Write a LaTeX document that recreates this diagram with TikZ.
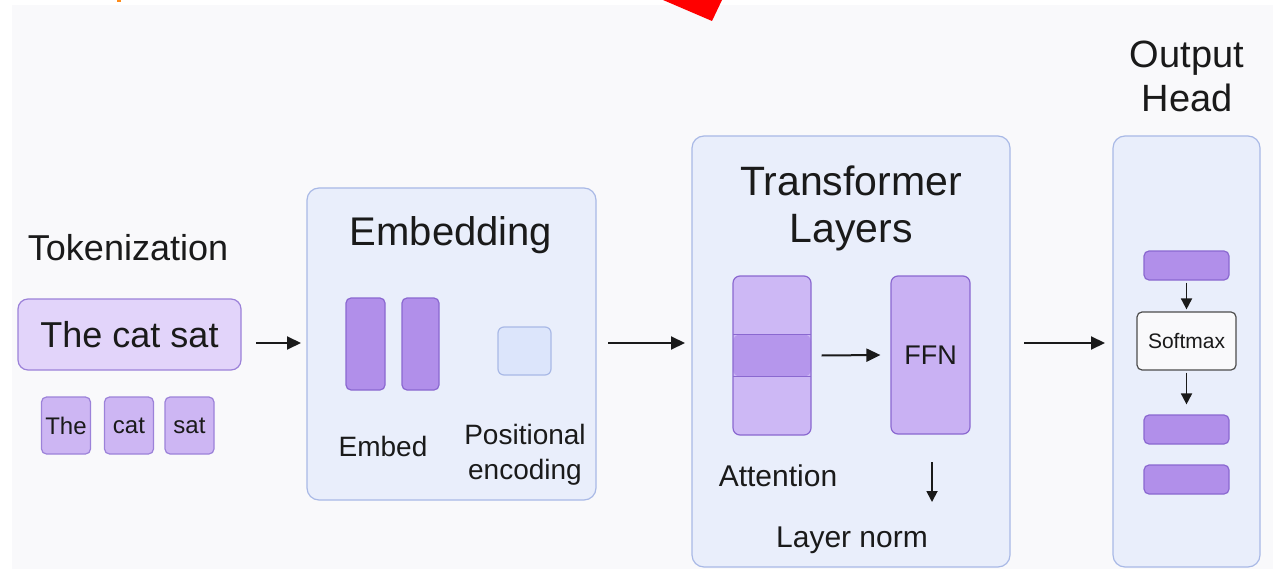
\documentclass[tikz,border=0pt]{standalone}
\usepackage{fontspec}
\setmainfont{Liberation Sans}
\usetikzlibrary{arrows.meta}
\definecolor{bgc}{HTML}{F9F9FB}
\definecolor{panelfill}{HTML}{E9EEFB}
\definecolor{panelline}{HTML}{A9B9E6}
\definecolor{tokfill}{HTML}{E2D4FA}
\definecolor{tokline}{HTML}{9C82D9}
\definecolor{smallfill}{HTML}{CDB6F3}
\definecolor{barfill}{HTML}{B18FEA}
\definecolor{barline}{HTML}{8A68D0}
\definecolor{attlight}{HTML}{CDB8F5}
\definecolor{attmid}{HTML}{B596EC}
\definecolor{ffnfill}{HTML}{C9B1F3}
\definecolor{posfill}{HTML}{DCE5FB}
\definecolor{txt}{HTML}{1A1A1A}
\definecolor{redmark}{HTML}{FF0000}
\definecolor{orangemark}{HTML}{FF8C1A}
\tikzset{
  panel/.style={draw=panelline, fill=panelfill, line width=1.2pt, rounded corners=12pt, inner sep=0pt},
  tokbox/.style={draw=tokline, fill=tokfill, line width=1.2pt, rounded corners=10pt, inner sep=0pt},
  smalltok/.style={draw=tokline, fill=smallfill, line width=1.2pt, rounded corners=5pt, inner sep=0pt, minimum width=49pt, minimum height=57pt, font=\fontsize{24}{26}\selectfont, text=txt},
  bar/.style={draw=barline, fill=barfill, line width=1.2pt, rounded corners=5pt, inner sep=0pt},
  title/.style={font=\fontsize{38}{44}\selectfont, text=txt, align=center, inner sep=0pt},
  label/.style={font=\fontsize{30}{35}\selectfont, text=txt, align=center, inner sep=0pt},
  flow/.style={-{Triangle[length=14pt,width=13pt]}, line width=2pt, draw=txt},
  smallflow/.style={-{Triangle[length=11pt,width=11pt]}, line width=1.8pt, draw=txt},
}
\begin{document}
\begin{tikzpicture}[x=1pt,y=-1pt]
\useasboundingbox (0,0) rectangle (1273,569);
\fill[white] (0,0) rectangle (1273,569);
\fill[bgc] (12,5) rectangle (1273,569);
% top marks
\fill[redmark] (663,0) -- (722,0) -- (712,21) -- cycle;
\fill[orangemark] (117,0) rectangle (121,2);

% Tokenization
\node[title, font=\fontsize{36}{40}\selectfont] (toktitle) at (128,248) {Tokenization};
\node[tokbox, minimum width=223pt, minimum height=71pt, font=\fontsize{36}{40}\selectfont, text=txt] (sent) at (129.5,334.5) {The cat sat};
\node[smalltok] (tthe) at (66,425.5) {The};
\node[smalltok] (tcat) at (129,425.5) {cat};
\node[smalltok] (tsat) at (189.5,425.5) {sat};

% Embedding panel
\node[panel, minimum width=289pt, minimum height=312pt] (emb) at (451.5,344) {};
\node[title, font=\fontsize{40}{44}\selectfont] (embtitle) at (451,235) {Embedding};
\node[bar, minimum width=39pt, minimum height=92pt] (e1) at (365.5,344) {};
\node[bar, minimum width=37pt, minimum height=92pt] (e2) at (420.5,344) {};
\node[draw=panelline, fill=posfill, line width=1.2pt, rounded corners=6pt, minimum width=53pt, minimum height=48pt, inner sep=0pt] (pos) at (524.5,351) {};
\node[label, font=\fontsize{28}{34}\selectfont] (emblabel) at (383,446) {Embed};
\node[label, font=\fontsize{28}{35}\selectfont] (poslabel) at (525,454.5) {Positional\\encoding};

% Transformer panel
\node[panel, minimum width=318pt, minimum height=431pt] (trf) at (851,351.5) {};
\node[title, font=\fontsize{41}{47}\selectfont] (trftitle) at (851,208.5) {Transformer\\Layers};
\node[draw=barline, fill=attlight, line width=1.2pt, rounded corners=7pt, minimum width=78pt, minimum height=159pt, inner sep=0pt,
  path picture={
    \fill[attmid] ([yshift=21pt]path picture bounding box.west) rectangle ([yshift=-21pt]path picture bounding box.east);
    \draw[barline, line width=1.2pt] ([yshift=21pt]path picture bounding box.west) -- ([yshift=21pt]path picture bounding box.east);
    \draw[barline, line width=1.2pt] ([yshift=-21pt]path picture bounding box.west) -- ([yshift=-21pt]path picture bounding box.east);
  }] (att) at (772,355.5) {};
\node[draw=barline, fill=ffnfill, line width=1.2pt, rounded corners=7pt, minimum width=79pt, minimum height=158pt, inner sep=0pt, font=\fontsize{27}{30}\selectfont, text=txt] (ffn) at (930.5,355) {FFN};
\node[label] (attlabel) at (778,476) {Attention};
\node[label] (normlabel) at (852,540) {Layer norm};
\coordinate (ffndown) at (932,462);
\coordinate (ffndownend) at (932,502);

% Output panel
\node[title] (outtitle) at (1187,76.5) {Output\\Head};
\node[panel, minimum width=147pt, minimum height=431pt] (outp) at (1186.5,351.5) {};
\node[bar, minimum width=85pt, minimum height=29pt] (o1) at (1186.5,265.5) {};
\node[draw=black!70, fill=bgc, line width=1.2pt, rounded corners=5pt, minimum width=99pt, minimum height=58pt, inner sep=0pt, font=\fontsize{21}{24}\selectfont, text=txt] (soft) at (1186.5,341) {Softmax};
\node[bar, minimum width=85pt, minimum height=29pt] (o2) at (1186.5,429.5) {};
\node[bar, minimum width=85pt, minimum height=29pt] (o3) at (1186.5,479.5) {};

% connectors
\coordinate (a1s) at (256,343);
\coordinate (a1e) at (301,343);
\draw[flow] (a1s) -- (a1e);
\coordinate (a2s) at (608,343);
\coordinate (a2e) at (685,343);
\draw[flow] (a2s) -- (a2e);
\coordinate (a3s) at (1024,343);
\coordinate (a3e) at (1105,343);
\draw[flow] (a3s) -- (a3e);
\draw[flow] ([xshift=10pt]att.east) -- ([xshift=-10pt]ffn.west);
\draw[smallflow] (ffndown) -- (ffndownend);
\draw[smallflow] ([yshift=-2pt]o1.south) -- ([yshift=2pt]soft.north);
\draw[smallflow] ([yshift=-2pt]soft.south) -- ([yshift=10pt]o2.north);
\end{tikzpicture}
\end{document}
